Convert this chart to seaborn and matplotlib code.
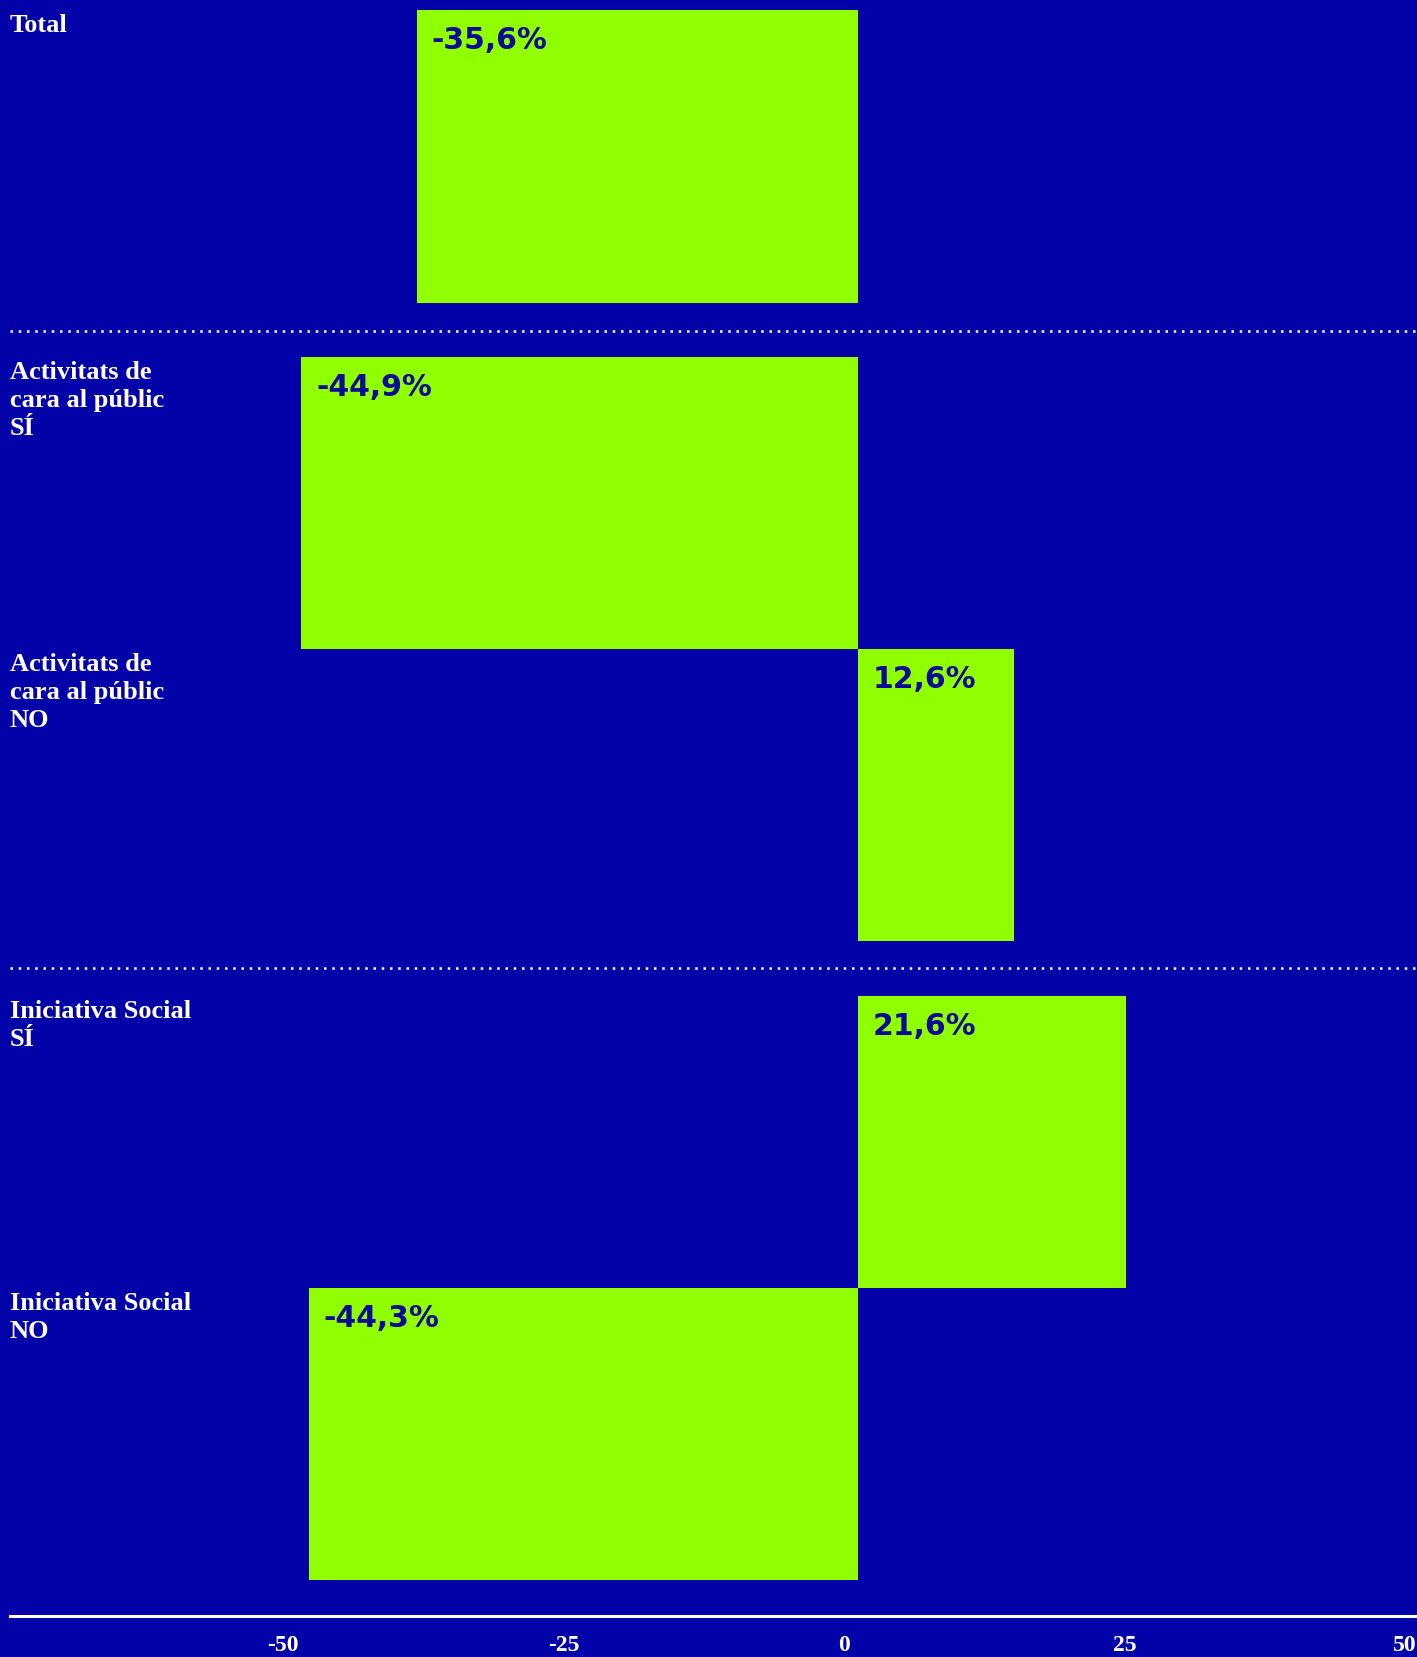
import numpy as np
import pandas as pd
import matplotlib
matplotlib.use("Agg")
import matplotlib.pyplot as plt
import seaborn as sns
from matplotlib.lines import Line2D

# ---------------- data ----------------
labels = [
    "Total",
    "Activitats de\ncara al públic\nSÍ",
    "Activitats de\ncara al públic\nNO",
    "Iniciativa Social\nSÍ",
    "Iniciativa Social\nNO",
]
values = [-35.6, -44.9, 12.6, 21.6, -44.3]
groups = [0, 1, 1, 2, 2]
tick_values = [-50, -25, 0, 25, 50]

# ---------------- style ----------------
BG = "#0202A8"
LIME = "#90FF00"
TXT = "#0A0A9A"
WHITE = "#FFFFFF"
W, H = 1417, 1658
plt.rcParams["axes.unicode_minus"] = False

df = pd.DataFrame({"label": labels, "value": values, "group": groups})

fig = plt.figure(figsize=(W / 100, H / 100), dpi=100, facecolor=BG)


def rect(left_px, top_px, right_px, bottom_px):
    return [left_px / W, 1 - bottom_px / H, (right_px - left_px) / W, (bottom_px - top_px) / H]


group_px = [(11, 303.5), (358, 942), (997, 1581)]
bar_xlim = ((10 - 858) / 12.4, (W - 858) / 12.4)

for g, (top, bottom) in enumerate(group_px):
    sub = df[df["group"] == g].reset_index(drop=True)
    ax = fig.add_axes(rect(10, top, W, bottom))
    sns.barplot(data=sub, x="value", y="label", orient="h", color=LIME,
                saturation=1, width=1, linewidth=0, errorbar=None, ax=ax)
    ax.set_xlim(*bar_xlim)
    ax.set_ylim(len(sub) - 0.5, -0.5)
    ax.axis("off")
    for i, row in sub.iterrows():
        ax.annotate(row["label"], xy=(0, i - 0.5), xycoords=("axes fraction", "data"),
                    xytext=(0, -3), textcoords="offset pixels", ha="left", va="top",
                    fontsize=19, fontweight="bold", family="Liberation Serif",
                    color=WHITE, linespacing=1.28, annotation_clip=False)
        v = row["value"]
        txt = f"{v:.1f}".replace(".", ",") + "%"
        ax.annotate(txt, xy=(min(v, 0), i - 0.5), xycoords="data",
                    xytext=(15, -15), textcoords="offset pixels", ha="left", va="top",
                    fontsize=21.5, fontweight="heavy", family="DejaVu Sans",
                    color=TXT, annotation_clip=False)

# dotted separators between groups
for ypx in (331.7, 968.7):
    fig.add_artist(Line2D([10 / W, 1], [1 - ypx / H] * 2, transform=fig.transFigure,
                          color=WHITE, lw=1.8, linestyle=(0, (1, 2.3)),
                          dash_capstyle="butt"))

# bottom axis strip
axx = fig.add_axes(rect(10, 1615.7, W, 1616.7))
axx.set_facecolor("none")
axx.set_xlim((10 - 844) / 11.22, (W - 844) / 11.22)
axx.set_xticks(tick_values)
axx.set_xticklabels([str(t) for t in tick_values], fontsize=17, fontweight="bold",
                    family="Liberation Serif", color=WHITE)
axx.tick_params(axis="x", length=0, pad=13)
axx.set_yticks([])
for s in ("top", "left", "right"):
    axx.spines[s].set_visible(False)
axx.spines["bottom"].set_color(WHITE)
axx.spines["bottom"].set_linewidth(2.2)

fig.savefig("out.png", dpi=100, facecolor=BG)
